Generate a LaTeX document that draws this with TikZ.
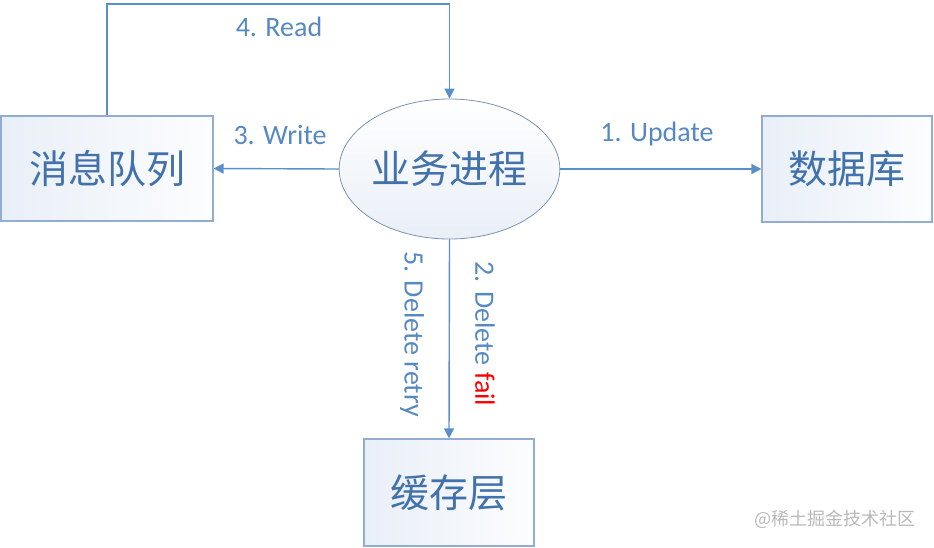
\documentclass[tikz,border=0pt]{standalone}
\usepackage{fontspec}
\setmainfont{Carlito}
\newfontfamily\cjk{Noto Sans CJK SC}
\usetikzlibrary{arrows.meta,shapes.geometric}
\definecolor{ln}{RGB}{91,143,201}
\definecolor{tx}{RGB}{86,136,196}
\definecolor{cn}{RGB}{66,114,172}
\definecolor{bd}{RGB}{146,173,208}
\definecolor{fa}{RGB}{233,239,247}
\definecolor{fb}{RGB}{252,253,254}
\begin{document}
\begin{tikzpicture}[x=1pt,y=-1pt,
  box/.style={draw=bd, line width=1.1pt, left color=fa, right color=fb, inner sep=0pt,
    text=cn, font=\cjk\fontsize{39}{42}\selectfont},
  proc/.style={ellipse, draw=bd!85!black, line width=0.8pt, top color=white, bottom color=fa, inner sep=0pt,
    text=cn, font=\cjk\fontsize{39}{42}\selectfont},
  arr/.style={draw=ln, line width=1.4pt, -{Triangle[length=10pt,width=10pt]}},
  lbl/.style={text=tx, font=\fontsize{28}{30}\selectfont, inner sep=0pt}]
\useasboundingbox (0,0) rectangle (934,547);
\node[box, minimum width=212pt, minimum height=105pt] (mq) at (107,168.5) {消息队列};
\node[box, minimum width=170pt, minimum height=106pt] (db) at (847,169) {数据库};
\node[box, minimum width=170pt, minimum height=107pt] (cache) at (449,492.5) {缓存层};
\node[proc, minimum width=212pt, minimum height=140pt] (p) at (449.5,169) {业务进程};
\coordinate (r1) at (107,4);
\coordinate (r2) at (449.5,4);
\draw[arr] (p.east) -- (db.west);
\draw[arr] (p.west) -- (mq.east);
\draw[arr] (p.south) -- (cache.north);
\draw[arr] (mq.north) -- (r1) -- (r2) -- (p.north);
\node[lbl] (l1) at (657,134) {1. Update};
\node[lbl] (l3) at (280,135) {3. Write};
\node[lbl] (l4) at (279,27) {4. Read};
\node[lbl, rotate=-90] (l5) at (412,334) {5. Delete retry};
\node[lbl, rotate=-90] (l2) at (485,334) {2. Delete \textcolor{red}{fail}};
\node[text=gray!55, font=\cjk\fontsize{18}{20}\selectfont, inner sep=0pt] (wm) at (835,519) {@稀土掘金技术社区};
\end{tikzpicture}
\end{document}
